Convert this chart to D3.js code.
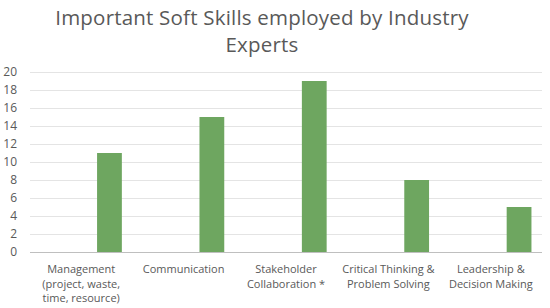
<!DOCTYPE html>
<html>
<head>
	<title>Soft Skills</title>
	<script src="https://cdn.jsdelivr.net/npm/d3@7"></script>
	<style>
	body{
		margin: 0;
		background: #ffffff;
		font-family: "Open Sans", "Noto Sans", Arial;
	}
	</style>
</head>
<body>
	<div id="chart"></div>
	<script>
		// data
		var categories = [
			["Management", "(project, waste,", "time, resource)"],
			["Communication"],
			["Stakeholder", "Collaboration *"],
			["Critical Thinking &", "Problem Solving"],
			["Leadership &", "Decision Making"]
		];
		var counts = [11, 15, 19, 8, 5];
		var yTicks = [0, 2, 4, 6, 8, 10, 12, 14, 16, 18, 20];
		var titleLines = ["Important Soft Skills employed by Industry", "Experts"];

		var width = 550, height = 308;
		var margin = {top: 72, right: 8, bottom: 56, left: 30};

		var svg = d3.select("#chart")
			.append("svg")
			.attr("width", width)
			.attr("height", height);

		var x = d3.scaleBand()
			.domain(d3.range(categories.length))
			.range([margin.left, width - margin.right])
			.padding(0);

		var y = d3.scaleLinear()
			.domain([0, 20])
			.range([height - margin.bottom, margin.top]);

		// title
		svg.append("g").selectAll("text")
			.data(titleLines)
			.enter().append("text")
			.attr("x", 262)
			.attr("y", function(d, i){ return 25 + i * 27; })
			.attr("text-anchor", "middle")
			.style("font-size", "20.5px")
			.style("letter-spacing", "0.2px")
			.style("fill", "#595959")
			.text(function(d){ return d; });

		// gridlines
		svg.append("g").selectAll("line")
			.data(yTicks.filter(function(t){ return t > 0; }))
			.enter().append("line")
			.attr("x1", x.range()[0])
			.attr("x2", x.range()[1])
			.attr("y1", function(d){ return Math.round(y(d)) + 0.5; })
			.attr("y2", function(d){ return Math.round(y(d)) + 0.5; })
			.style("stroke", "#e4e4e4")
			.style("stroke-width", 1);

		// y tick labels
		svg.append("g").selectAll("text")
			.data(yTicks)
			.enter().append("text")
			.attr("x", 17)
			.attr("y", function(d){ return y(d); })
			.attr("dy", "0.35em")
			.attr("text-anchor", "end")
			.style("font-size", "12px")
			.style("fill", "#595959")
			.text(function(d){ return d; });

		// bars, sitting in the right part of each category slot
		var bw = x.bandwidth();
		svg.append("g").selectAll("rect")
			.data(counts)
			.enter().append("rect")
			.attr("x", function(d, i){ return x(i) + bw * 0.655; })
			.attr("width", bw * 0.242)
			.attr("y", function(d){ return y(d); })
			.attr("height", function(d){ return y(0) - y(d); })
			.style("fill", "#6ea660");

		// baseline
		svg.append("line")
			.attr("x1", x.range()[0])
			.attr("x2", x.range()[1])
			.attr("y1", Math.round(y(0)) + 0.5)
			.attr("y2", Math.round(y(0)) + 0.5)
			.style("stroke", "#bfbfbf")
			.style("stroke-width", 1.2);

		// category labels
		var labels = svg.append("g").selectAll("text")
			.data(categories)
			.enter().append("text")
			.attr("text-anchor", "middle")
			.style("font-size", "11px")
			.style("fill", "#595959");

		labels.selectAll("tspan")
			.data(function(d, i){ return d.map(function(line){ return {line: line, i: i}; }); })
			.enter().append("tspan")
			.attr("x", function(d){ return x(d.i) + bw / 2; })
			.attr("y", function(d, j){ return 273 + j * 14.5; })
			.text(function(d){ return d.line; });
	</script>
</body>
</html>
